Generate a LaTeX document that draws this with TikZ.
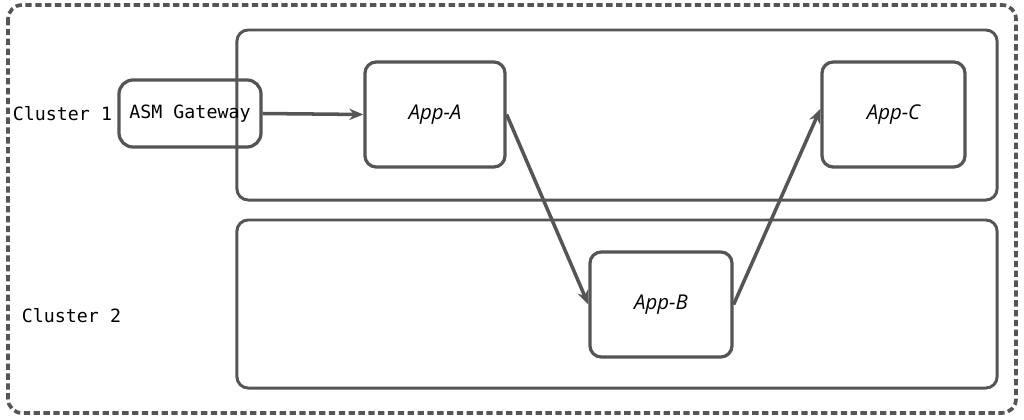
\documentclass[tikz,border=0pt]{standalone}
\usepackage{fontspec}
\setmainfont{Open Sans}
\newfontfamily\monofont{DejaVu Sans Mono}
\usetikzlibrary{positioning,arrows.meta}

\definecolor{ink}{HTML}{555555}

\begin{document}
\begin{tikzpicture}[
    x=0.025cm, y=-0.025cm,
    cluster/.style={draw=ink, rounded corners=8pt, line width=2.1pt,
                    minimum width=19cm, minimum height=4.25cm},
    app/.style={draw=ink, rounded corners=8pt, line width=2.3pt,
                minimum width=3.5cm, minimum height=2.625cm,
                font=\fontsize{14.5}{16}\selectfont\itshape},
    gw/.style={draw=ink, rounded corners=10pt, line width=2.3pt,
               minimum width=3.55cm, minimum height=1.675cm,
               font=\monofont\fontsize{13}{15}\selectfont},
    arr/.style={-{Stealth[length=10pt,width=8pt]}, draw=ink, line width=2.5pt},
    lbl/.style={font=\monofont\fontsize{13}{15}\selectfont, anchor=west}
  ]
  \useasboundingbox (0,0) rectangle (1024,420);

  % Outer boundary
  \draw[ink, line width=2.6pt, dash pattern=on 4.5pt off 2.5pt, rounded corners=10pt]
    (8,5) rectangle (1016,413);

  % Clusters
  \node[cluster] (c1) at (617,115) {};
  \node[cluster, minimum height=4.2cm] (c2) at (617,304) {};
  \node[lbl] (c1lbl) at (8,114) {Cluster 1};
  \node[lbl] (c2lbl) at (17,316) {Cluster 2};

  % Gateway and apps
  \node[gw] (gate) at (190,113.5) {ASM Gateway};
  \node[app] (appa) at (435,114.5) {App-A};
  \node[app, minimum width=3.575cm] (appc) at (893.5,114.5) {App-C};
  \node[app, minimum width=3.55cm] (appb) at (661,304.5) {App-B};

  % Traffic
  \draw[arr] (gate.east) -- (appa.west);
  \draw[arr] (appa.east) -- (appb.west);
  \draw[arr] (appb.east) -- ([yshift=4pt]appc.west);
\end{tikzpicture}
\end{document}
